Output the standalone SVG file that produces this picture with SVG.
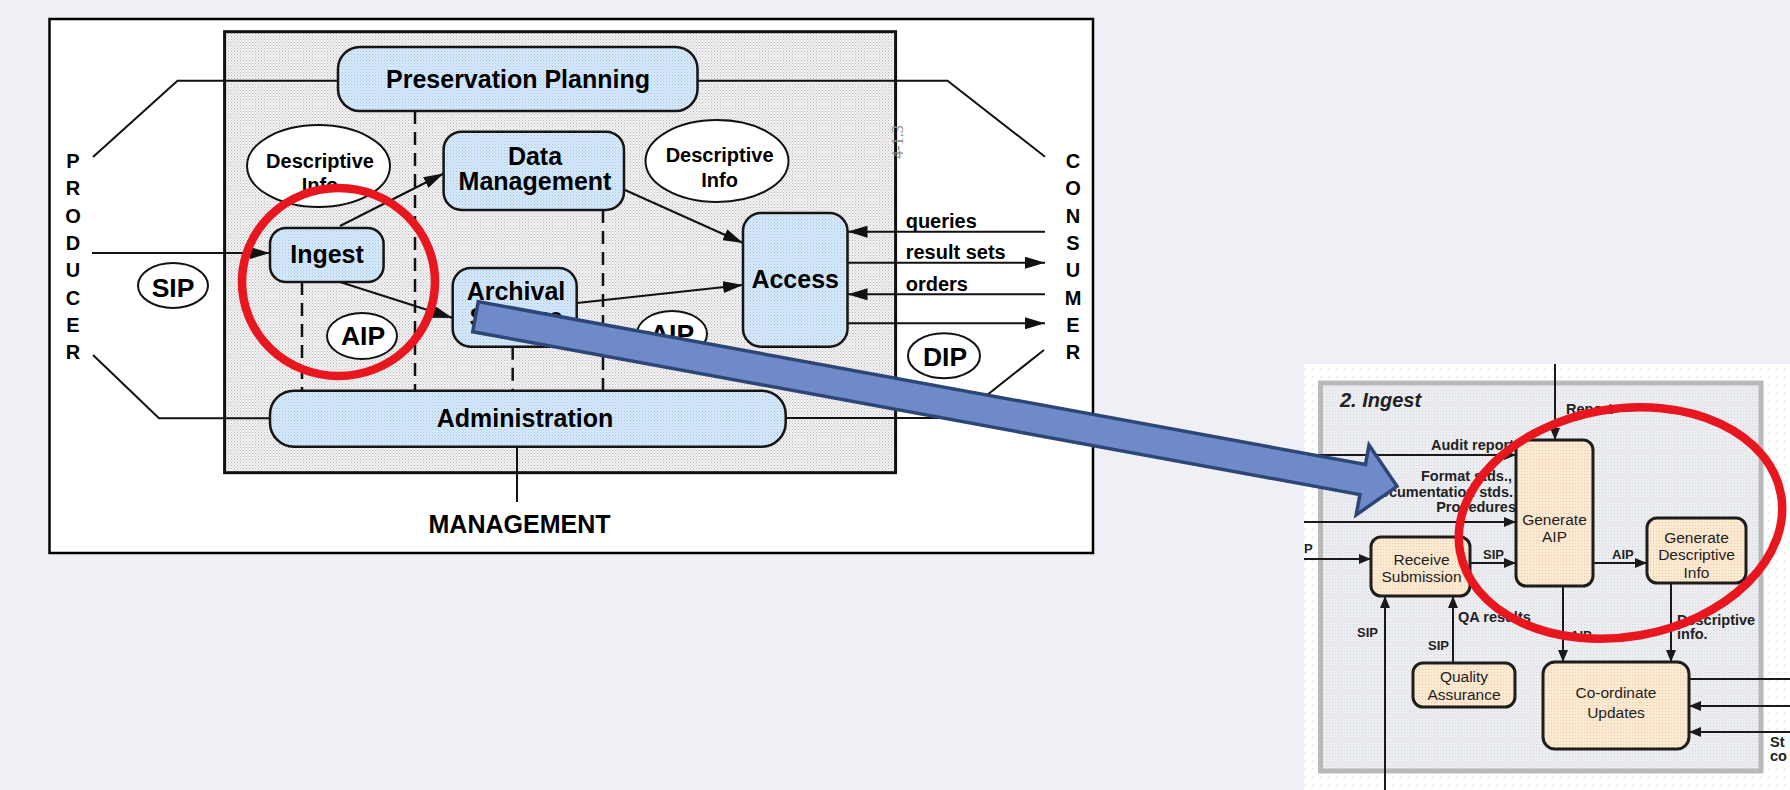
<svg xmlns="http://www.w3.org/2000/svg" width="1790" height="790" viewBox="0 0 1790 790">
<style>
  .t{font-family:"Liberation Sans",Arial,Helvetica,sans-serif;fill:#000}
  .b{font-weight:bold}
  .mid{text-anchor:middle}
  .end{text-anchor:end}
  .s25{font-size:25px}
  .s27{font-size:26.5px}
  .s20{font-size:20px}
  .node{stroke:#151515;stroke-width:2.5;fill:url(#blueDots)}
  .oval{fill:#fff;stroke:#111;stroke-width:2}
  .wire{fill:none;stroke:#111;stroke-width:2}
  .dash{fill:none;stroke:#111;stroke-width:2.5;stroke-dasharray:13 8}
  .fn{stroke:#1d1d1d;stroke-width:3;fill:url(#peachDots)}
  .wire2{fill:none;stroke:#1a1a1a;stroke-width:2}
  .ft{font-size:15.5px;fill:#1e1e1e}
  .fl{font-size:14.5px;font-weight:bold;fill:#222}
  .fs{font-size:13px;font-weight:bold;fill:#222}
  .ring{fill:none;stroke:#e8161e;stroke-width:8.5}
</style>
<defs>
  <pattern id="grayDots" width="3" height="3" patternUnits="userSpaceOnUse">
    <rect width="3" height="3" fill="#f3f3f3"/>
    <rect x="0" y="0" width="1" height="1" fill="#b9b9b9"/>
    <rect x="1.5" y="1.5" width="1" height="1" fill="#c4bcc4"/>
  </pattern>
  <pattern id="blueDots" width="3" height="3" patternUnits="userSpaceOnUse">
    <rect width="3" height="3" fill="#d6ebfd"/>
    <rect x="0" y="0" width="1" height="1" fill="#a9c2dc"/>
    <rect x="1.5" y="1.5" width="1" height="1" fill="#b6cbe2"/>
  </pattern>
  <pattern id="peachDots" width="3" height="3" patternUnits="userSpaceOnUse">
    <rect width="3" height="3" fill="#fde8d0"/>
    <rect x="0" y="0" width="1" height="1" fill="#e6ccb0"/>
  </pattern>
  <pattern id="paleDots" width="3" height="3" patternUnits="userSpaceOnUse">
    <rect width="3" height="3" fill="#eff0f4"/>
    <rect x="0" y="0" width="1" height="1" fill="#cfd1d9"/>
    <rect x="1.5" y="1.5" width="1" height="1" fill="#dcdde3"/>
  </pattern>
  <pattern id="greenDots" width="8" height="8" patternUnits="userSpaceOnUse">
    <rect width="8" height="8" fill="#ffffff"/>
    <rect x="0" y="0" width="1.5" height="1.5" fill="#dcefdc"/>
  </pattern>
  <marker id="arr" viewBox="0 0 20 12" markerWidth="20" markerHeight="12" refX="20" refY="6" orient="auto" markerUnits="userSpaceOnUse">
    <path d="M0,0L20,6L0,12Z" fill="#111"/>
  </marker>
  <marker id="arr2" viewBox="0 0 12 10" markerWidth="12" markerHeight="10" refX="12" refY="5" orient="auto" markerUnits="userSpaceOnUse">
    <path d="M0,0L12,5L0,10Z" fill="#1a1a1a"/>
  </marker>
</defs>

<!-- page background -->
<rect width="1790" height="790" fill="#eff0f5"/>

<!-- ===== OAIS functional model ===== -->
<g id="oais-model">
  <rect x="49.5" y="19" width="1043.5" height="534" fill="#fff" stroke="#000" stroke-width="2.5"/>
  <rect x="224.6" y="31.7" width="671" height="441" fill="url(#grayDots)" stroke="#111" stroke-width="3"/>
  <text x="903" y="142" font-size="16" text-anchor="middle" transform="rotate(-90 903 142)" style="font-family:'Liberation Serif',serif;fill:#8a8a8a">4-1.3</text>
</g>

<!-- outer actors -->
<g id="producer">
  <text class="t b s20 mid"><tspan x="73" y="168">P</tspan><tspan x="73" y="195.3">R</tspan><tspan x="73" y="222.6">O</tspan><tspan x="73" y="249.9">D</tspan><tspan x="73" y="277.2">U</tspan><tspan x="73" y="304.5">C</tspan><tspan x="73" y="331.8">E</tspan><tspan x="73" y="359.1">R</tspan></text>
</g>
<g id="consumer">
  <text class="t b s20 mid"><tspan x="1073" y="168">C</tspan><tspan x="1073" y="195.3">O</tspan><tspan x="1073" y="222.6">N</tspan><tspan x="1073" y="249.9">S</tspan><tspan x="1073" y="277.2">U</tspan><tspan x="1073" y="304.5">M</tspan><tspan x="1073" y="331.8">E</tspan><tspan x="1073" y="359.1">R</tspan></text>
</g>
<g id="management">
  <text class="t b s25 mid" x="519.5" y="533">MANAGEMENT</text>
</g>

<!-- connectors of the functional model -->
<g id="model-connectors">
  <polyline class="wire" points="93,157 177.5,80.7 338,80.7"/>
  <polyline class="wire" points="93,355 159,418.3 270,418.3"/>
  <polyline class="wire" points="697.5,80.7 947.5,80.7 1045,156.7"/>
  <polyline class="wire" points="785.7,418 958,418 1044,350"/>
  <line class="wire" x1="517" y1="446.7" x2="517" y2="502"/>

  <line class="dash" x1="302" y1="282" x2="302" y2="390.7"/>
  <line class="dash" x1="415" y1="111" x2="415" y2="390.7"/>
  <line class="dash" x1="512.7" y1="346.7" x2="512.7" y2="390.7"/>
  <line class="dash" x1="603" y1="210" x2="603" y2="390.7"/>

  <line class="wire" x1="92" y1="253" x2="270" y2="253" marker-end="url(#arr)"/>
  <line class="wire" x1="340" y1="226" x2="443.6" y2="173.5" marker-end="url(#arr)"/>
  <line class="wire" x1="340" y1="282" x2="452.7" y2="318" marker-end="url(#arr)"/>
  <line class="wire" x1="625" y1="190" x2="743" y2="243" marker-end="url(#arr)"/>
  <line class="wire" x1="577" y1="303" x2="743" y2="285" marker-end="url(#arr)"/>
  <line class="wire" x1="1045" y1="231.7" x2="847.5" y2="231.7" marker-end="url(#arr)"/>
  <line class="wire" x1="847.5" y1="262.7" x2="1045" y2="262.7" marker-end="url(#arr)"/>
  <line class="wire" x1="1045" y1="294.3" x2="847.5" y2="294.3" marker-end="url(#arr)"/>
  <line class="wire" x1="847.5" y1="323.3" x2="1045" y2="323.3" marker-end="url(#arr)"/>

  <text class="t b s20" x="905.7" y="228">queries</text>
  <text class="t b s20" x="905.7" y="259">result sets</text>
  <text class="t b s20" x="905.7" y="291">orders</text>
</g>

<!-- functional entities -->
<g id="preservation-planning">
  <rect class="node" x="338" y="47" width="359.5" height="64" rx="22"/>
  <text class="t b s25 mid" x="518" y="88">Preservation Planning</text>
</g>
<g id="data-management">
  <rect class="node" x="443.6" y="131.7" width="180.4" height="78.3" rx="18"/>
  <text class="t b s25 mid" x="535" y="165">Data</text>
  <text class="t b s25 mid" x="535" y="190">Management</text>
</g>
<g id="ingest">
  <rect class="node" x="270" y="228" width="113.6" height="54" rx="16"/>
  <text class="t b s25 mid" x="327" y="263">Ingest</text>
</g>
<g id="archival-storage">
  <rect class="node" x="452.7" y="268" width="124" height="78.7" rx="18"/>
  <text class="t b s25 mid" x="516" y="300">Archival</text>
  <text class="t b s25 mid" x="516" y="326">Storage</text>
</g>
<g id="access">
  <rect class="node" x="743" y="213" width="104.5" height="133.7" rx="18"/>
  <text class="t b s25 mid" x="795.2" y="288">Access</text>
</g>
<g id="administration">
  <rect class="node" x="270" y="390.7" width="515.7" height="56" rx="24"/>
  <text class="t b s25 mid" x="525" y="427">Administration</text>
</g>

<!-- information packages -->
<g id="descriptive-info-left">
  <ellipse class="oval" cx="318.5" cy="166" rx="71.5" ry="41"/>
  <text class="t b s20 mid" x="320" y="168">Descriptive</text>
  <text class="t b s20 mid" x="320" y="192">Info</text>
</g>
<g id="descriptive-info-right">
  <ellipse class="oval" cx="717" cy="161" rx="71.5" ry="41"/>
  <text class="t b s20 mid" x="719.6" y="161.7">Descriptive</text>
  <text class="t b s20 mid" x="719.6" y="186.7">Info</text>
</g>
<g id="sip">
  <ellipse class="oval" cx="173" cy="285.5" rx="35" ry="22.5"/>
  <text class="t b s27 mid" x="173" y="296.5">SIP</text>
</g>
<g id="aip-left">
  <ellipse class="oval" cx="362" cy="336" rx="35" ry="23"/>
  <text class="t b s27 mid" x="363" y="345">AIP</text>
</g>
<g id="aip-right">
  <ellipse class="oval" cx="672" cy="334" rx="35" ry="23"/>
  <text class="t b s27 mid" x="672" y="343">AIP</text>
</g>
<g id="dip">
  <ellipse class="oval" cx="944" cy="355.8" rx="36" ry="22.5"/>
  <text class="t b s27 mid" x="945" y="365.5">DIP</text>
</g>

<!-- ===== Ingest detail ===== -->
<g id="ingest-detail">
  <rect x="1304" y="364" width="486" height="426" fill="url(#greenDots)"/>
  <rect x="1320.5" y="383" width="440.5" height="388" fill="url(#paleDots)" stroke="#b9b9bb" stroke-width="5"/>
  <text class="t b" x="1340" y="407" font-size="20" font-style="italic" style="fill:#222">2. Ingest</text>
</g>

<g id="ingest-connectors">
  <line class="wire2" x1="1555" y1="364" x2="1555" y2="440" marker-end="url(#arr2)"/>
  <line class="wire2" x1="1304" y1="455" x2="1516" y2="455" marker-end="url(#arr2)"/>
  <line class="wire2" x1="1304" y1="522" x2="1516" y2="522" marker-end="url(#arr2)"/>
  <line class="wire2" x1="1304" y1="559" x2="1371" y2="559" marker-end="url(#arr2)"/>
  <line class="wire2" x1="1470" y1="563" x2="1516" y2="563" marker-end="url(#arr2)"/>
  <line class="wire2" x1="1593" y1="563" x2="1647" y2="563" marker-end="url(#arr2)"/>
  <line class="wire2" x1="1563" y1="586" x2="1563" y2="662" marker-end="url(#arr2)"/>
  <line class="wire2" x1="1671" y1="583" x2="1671" y2="662" marker-end="url(#arr2)"/>
  <line class="wire2" x1="1385" y1="790" x2="1385" y2="596" marker-end="url(#arr2)"/>
  <line class="wire2" x1="1453" y1="663" x2="1453" y2="596" marker-end="url(#arr2)"/>
  <line class="wire2" x1="1689" y1="679" x2="1790" y2="679"/>
  <line class="wire2" x1="1790" y1="706" x2="1689" y2="706" marker-end="url(#arr2)"/>
  <line class="wire2" x1="1790" y1="732" x2="1689" y2="732" marker-end="url(#arr2)"/>

  <text class="t fl" x="1566" y="414">Report</text>
  <text class="t fl end" x="1514" y="450">Audit report</text>
  <text class="t fl end" x="1512" y="481">Format stds.,</text>
  <text class="t fl end" x="1513" y="497">Documentation stds.</text>
  <text class="t fl end" x="1516" y="512">Procedures</text>
  <text class="t fs" x="1304" y="553">P</text>
  <text class="t fs" x="1483" y="559">SIP</text>
  <text class="t fs" x="1612" y="559">AIP</text>
  <text class="t fs" x="1357" y="637">SIP</text>
  <text class="t fs" x="1428" y="650">SIP</text>
  <text class="t fl" x="1458" y="622">QA results</text>
  <text class="t fs" x="1570" y="640">AIP</text>
  <text class="t fl" x="1677" y="625">Descriptive</text>
  <text class="t fl" x="1677" y="639">info.</text>
  <text class="t fl" x="1770" y="747">St</text>
  <text class="t fl" x="1770" y="761">co</text>
</g>

<g id="receive-submission">
  <rect class="fn" x="1371" y="537" width="99" height="59" rx="10"/>
  <text class="t ft mid" x="1421.5" y="565">Receive</text>
  <text class="t ft mid" x="1421.5" y="582">Submission</text>
</g>
<g id="generate-aip">
  <rect class="fn" x="1516" y="440" width="77" height="146" rx="10"/>
  <text class="t ft mid" x="1554.5" y="525">Generate</text>
  <text class="t ft mid" x="1554.5" y="542">AIP</text>
</g>
<g id="generate-descriptive-info">
  <rect class="fn" x="1647" y="518" width="99" height="65" rx="10"/>
  <text class="t ft mid" x="1696.5" y="543">Generate</text>
  <text class="t ft mid" x="1696.5" y="560">Descriptive</text>
  <text class="t ft mid" x="1696.5" y="578">Info</text>
</g>
<g id="quality-assurance">
  <rect class="fn" x="1413" y="663" width="102" height="44" rx="10"/>
  <text class="t ft mid" x="1464" y="682">Quality</text>
  <text class="t ft mid" x="1464" y="700">Assurance</text>
</g>
<g id="coordinate-updates">
  <rect class="fn" x="1543" y="662" width="146" height="87" rx="12"/>
  <text class="t ft mid" x="1616" y="698">Co-ordinate</text>
  <text class="t ft mid" x="1616" y="718">Updates</text>
</g>

<!-- highlight rings -->
<g id="highlights">
  <ellipse class="ring" cx="338.5" cy="282" rx="96.5" ry="94"/>
  <ellipse class="ring" cx="1620.5" cy="523" rx="163" ry="114" transform="rotate(-10 1620.5 523)"/>
</g>

<!-- pointer from Ingest to its detail view -->
<g id="pointer">
  <path d="M0,-15.3 L902,-15.3 L902,-35 L937,0.5 L902,36 L902,15.3 L0,15.3 Z" transform="translate(475.5 316.7) rotate(10.4)" fill="#6f8ac8" stroke="#2e4676" stroke-width="3.5" stroke-linejoin="miter"/>
</g>
</svg>
